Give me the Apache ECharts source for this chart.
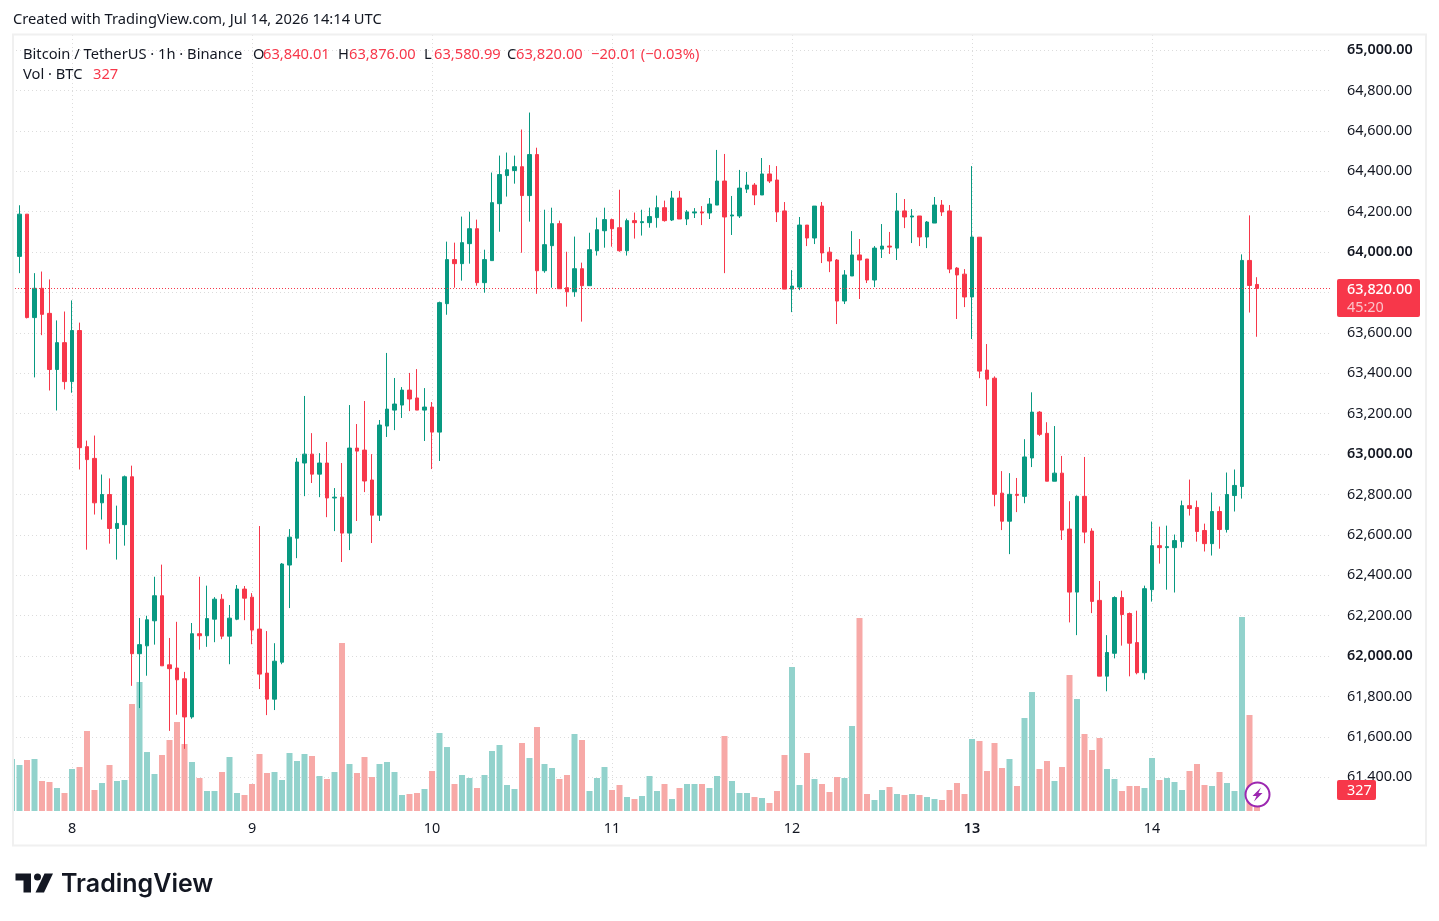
<!DOCTYPE html>
<html>
<head>
<meta charset="utf-8">
<style>html,body{margin:0;padding:0;background:#fff}#c{width:1439px;height:921px}</style>
<script src="https://cdn.jsdelivr.net/npm/echarts@6/dist/echarts.min.js"></script>
</head>
<body>
<div id="c"></div>
<script>
const opens = [
63924,63979,64188,63676,63821,63697,63419,63552,63359,63612,
63037,62979,62759,62800,62632,62651,62888,62012,62051,62175,
62299,61957,61941,61888,61699,62111,62101,62183,62282,62099,
62183,62332,62292,62134,61916,61787,61970,62451,62584,62956,
63000,62901,62956,62783,62787,62609,63030,63020,62872,62698,
63139,63218,63243,63317,63278,63218,63233,63109,63745,63963,
63943,64042,64116,63849,63958,64240,64379,64404,64423,64280,
64483,63908,64032,64141,63824,63804,63918,63834,64007,64106,
64161,64121,64007,64156,64146,64146,64171,64220,64159,64268,
64164,64194,64199,64194,64233,64352,64179,64179,64312,64332,
64283,64387,64357,64204,63817,63827,64134,64070,64228,64000,
63961,63758,63882,63986,63966,63862,64015,64030,64020,64204,
64174,64179,64075,64144,64233,64204,63921,63891,63778,64074,
63416,63376,62807,62668,62801,62791,62981,63208,63103,62866,
62906,62629,62317,62791,62619,62276,61901,62014,62290,62211,
62067,61918,62329,62547,62537,62537,62567,62745,62736,62622,
62557,62716,62627,62795,62840,63959,63840.01];
const closes = [
63984,64188,63676,63821,63692,63419,63552,63359,63612,63032,
62973,62759,62800,62632,62657,62888,62012,62057,62180,62299,
61952,61938,61883,61699,62111,62101,62186,62282,62099,62188,
62332,62287,62129,61911,61787,61975,62456,62589,62961,63000,
62901,62956,62783,62787,62609,63030,63015,62867,62698,63144,
63223,63248,63317,63273,63218,63233,63109,63750,63963,63943,
64047,64116,63849,63963,64245,64384,64408,64423,64280,64483,
63908,64037,64141,63819,63804,63918,63834,64012,64111,64161,
64116,64007,64156,64146,64151,64176,64220,64156,64268,64164,
64199,64199,64194,64238,64352,64174,64184,64317,64332,64283,
64387,64352,64199,63817,63832,64134,64070,64228,63996,63956,
63758,63887,63986,63961,63862,64020,64030,64025,64204,64174,
64179,64075,64149,64233,64199,63916,63887,63778,64075,63411,
63371,62801,62668,62801,62796,62986,63208,63098,62866,62906,
62624,62317,62791,62614,62271,61901,62018,62290,62206,62064,
61918,62334,62547,62537,62542,62572,62745,62731,62617,62557,
62716,62627,62800,62845,63959,63835,63820];
const highs = [
63984,64232,64188,63896,63904,63865,63662,63706,63761,63651,
63067,63092,62899,62880,62745,62894,62943,62189,62200,62393,
62453,62090,62170,61922,62164,62393,62349,62292,62307,62253,
62352,62347,62312,62644,62124,62064,62461,62629,62981,63288,
63104,63005,63060,62832,62956,63243,63149,63263,63000,63169,
63501,63377,63332,63402,63421,63327,63258,63755,64052,64047,
64176,64200,64161,64012,64394,64478,64493,64478,64607,64691,
64517,64210,64220,64156,64002,64077,63948,64096,64171,64220,
64166,64309,64166,64196,64210,64220,64280,64255,64303,64303,
64208,64218,64228,64268,64506,64486,64278,64407,64397,64342,
64466,64431,64426,64248,63911,64174,64134,64228,64248,64025,
63966,63911,64104,64065,63966,64030,64139,64100,64293,64263,
64213,64179,64154,64273,64258,64233,63926,63916,64426,64074,
63545,63385,62916,62906,62882,63074,63306,63213,63158,63139,
62991,62767,62796,62986,62633,62372,62104,62296,62324,62216,
62225,62349,62666,62641,62646,62602,62770,62874,62770,62656,
62810,62741,62909,62924,63989,64182,63876];
const lows = [
63924,63896,63672,63380,63589,63315,63216,63320,63304,62924,
62527,62701,62676,62557,62478,62547,61853,61743,61903,62057,
61952,61630,61710,61541,61690,62032,62046,62069,62084,61960,
62178,62178,62059,61837,61708,61733,61960,62238,62485,62792,
62857,62787,62688,62619,62466,62525,62669,62812,62560,62669,
63085,63119,63179,63213,63218,63065,62926,62966,63690,63824,
63859,63943,63834,63799,63958,64101,64275,64339,63997,64151,
63794,63898,63824,63819,63730,63779,63656,63834,63983,64022,
64027,64002,63983,64067,64082,64121,64121,64151,64154,64164,
64134,64169,64134,64164,64233,63896,64085,64169,64293,64233,
64283,64342,64149,63817,63703,63812,64030,64040,63946,63901,
63644,63743,63882,63768,63847,63827,63971,63991,63961,64119,
64045,64030,64020,64144,64179,63896,63669,63728,63570,63376,
63238,62742,62624,62505,62713,62757,62936,63090,62866,62866,
62575,62167,62104,62559,62213,61901,61826,61989,62052,61900,
61910,61884,62270,62458,62329,62315,62537,62696,62567,62518,
62498,62532,62612,62716,62780,63701,63580.99];
const volumes = [
811,718,796,811,468,452,359,281,655,686,
1248,328,437,718,468,484,1669,2012,920,577,
874,1108,1388,1045,764,515,312,312,608,842,
281,250,421,889,593,608,484,905,780,889,
858,546,499,608,2621,733,593,842,530,733,
764,608,250,265,281,343,624,1217,998,421,
562,515,359,562,936,1030,406,343,1061,827,
1310,733,671,499,562,1201,1108,312,515,686,
328,406,218,187,234,546,312,421,187,359,
421,421,421,359,546,1170,468,281,281,218,
203,125,312,874,2246,406,905,499,421,296,
530,515,1326,3011,265,172,328,374,265,250,
265,250,218,187,172,328,437,265,1123,1092,
624,1061,671,811,390,1451,1856,655,780,468,
686,2122,1747,1201,952,1139,655,499,312,390,
390,359,827,484,515,452,328,624,733,406,
390,608,437,312,3026,1498,327];
const dayLabels = {8:'8',32:'9',56:'10',80:'11',104:'12',128:'13',152:'14'};
const slotCount = 177;
const hours = Array.from({length: slotCount}, (_, i) => 'h' + i);
const priceMin = 61400, priceMax = 65000, priceStep = 200;
const lastPrice = 63820;

const UP = '#089981', DOWN = '#f7374a', UPV = '#92d2cc', DOWNV = '#f7a9a7';
const INK = '#131722', FONT = '"Noto Sans"';
const GRIDC = '#dcdcdc';
const AXSIZE = 14.4, HEADSIZE = 14.7;

const isDay = i => dayLabels[i] !== undefined;
const chart = echarts.init(document.getElementById('c'), null, {renderer:'canvas', width:1439, height:921});

const plotL = 12, plotW = 176 * 7.5, plotR = 1439 - plotL - plotW;

function text(x, y, s, fill, size, weight, font) {
  return {type:'text', x, y, z:50, silent:true,
    style:{text:s, fill:fill||INK, font:(weight||'normal')+' '+(size||HEADSIZE)+'px '+(font||FONT), textVerticalAlign:'middle', textBaseline:'middle'}};
}

const money = v => v.toLocaleString('en-US', {minimumFractionDigits:2, maximumFractionDigits:2});

chart.setOption({
  animation:false,
  backgroundColor:'#fff',
  grid:[
    {left:plotL, right:plotR, top:50.14, height:727.2},
    {left:plotL, right:plotR, top:35, height:776}
  ],
  xAxis:[
    {type:'category', gridIndex:0, data:hours, boundaryGap:false, show:false},
    {type:'category', gridIndex:1, data:hours, boundaryGap:false,
     axisLine:{show:false}, axisTick:{show:false},
     axisLabel:{interval:i=>isDay(i), margin:11, fontFamily:FONT, fontSize:AXSIZE, color:INK, hideOverlap:false,
       formatter:(v,i)=>dayLabels[i]==='13' ? '{b|13}' : (dayLabels[i]||''),
       rich:{b:{fontFamily:FONT, fontSize:AXSIZE, fontWeight:600, color:INK}}},
     splitLine:{show:true, interval:i=>isDay(i), lineStyle:{color:GRIDC, type:[1,3], width:1}}}
  ],
  yAxis:[
    {type:'value', gridIndex:0, position:'right', min:priceMin, max:priceMax, interval:priceStep, scale:true,
     axisLine:{show:false}, axisTick:{show:false},
     axisLabel:{margin:15, fontFamily:FONT, fontSize:AXSIZE, color:INK, align:'left', showMinLabel:true, showMaxLabel:true,
       formatter:v=> v%1000===0 ? '{b|'+money(v)+'}' : money(v),
       rich:{b:{fontFamily:FONT, fontSize:AXSIZE, fontWeight:600, color:INK}}},
     splitLine:{show:true, lineStyle:{color:GRIDC, type:[1,3], width:1}}},
    {type:'value', gridIndex:1, min:0, max:12106, show:false, splitLine:{show:false}}
  ],
  series:[
    {type:'bar', name:'Vol', xAxisIndex:1, yAxisIndex:1, barWidth:6, z:2, silent:true,
     data:volumes.map((v,i)=>({value:v, itemStyle:{color: closes[i]>=opens[i] ? UPV : DOWNV}}))},
    {type:'candlestick', name:'BTCUSDT', xAxisIndex:0, yAxisIndex:0, barWidth:4, z:3, silent:true,
     itemStyle:{color:UP, color0:DOWN, borderColor:UP, borderColor0:DOWN, borderWidth:1},
     data:opens.map((o,i)=>[o, closes[i], lows[i], highs[i]]),
     markLine:{silent:true, symbol:'none', label:{show:false}, animation:false,
       lineStyle:{color:DOWN, type:[1,2], width:1}, data:[{yAxis:lastPrice}]}}
  ]
});

const py = chart.convertToPixel({yAxisIndex:0}, lastPrice);
chart.setOption({graphic:[
  // covers the part of the first hour that falls outside the pane
  {type:'rect', z:30, silent:true, shape:{x:0,y:35,width:13,height:812}, style:{fill:'#fff'}},
  // frame
  {type:'rect', z:40, silent:true, shape:{x:13,y:34.5,width:1413,height:811}, style:{fill:'none', stroke:'#f0f0f0', lineWidth:2}},
  // header
  text(13,20,'Created with TradingView.com, Jul 14, 2026 14:14 UTC'),
  text(23,55,'Bitcoin / TetherUS · 1h · Binance'),
  text(253,55,'O'), text(263,55,'63,840.01',DOWN),
  text(338,55,'H'), text(349,55,'63,876.00',DOWN),
  text(424,55,'L'), text(434,55,'63,580.99',DOWN),
  text(507,55,'C'), text(516,55,'63,820.00',DOWN),
  text(591,55,'−20.01 (−0.03%)',DOWN),
  text(23,75,'Vol · BTC'),
  text(93,75,'327',DOWN),
  // last price tag
  {type:'rect', z:45, silent:true, shape:{x:1337,y:py-9.5,width:83,height:38,r:2}, style:{fill:DOWN}},
  text(1347,py+1,'63,820.00','#fff',14.4,'500'),
  text(1347,py+19,'45:20','#fbc4ca',14.4),
  // volume tag
  {type:'rect', z:45, silent:true, shape:{x:1337,y:780,width:39,height:20,r:2}, style:{fill:DOWN}},
  text(1347,791,'327','#fff',14.4),
  // bolt badge
  {type:'circle', z:46, silent:true, shape:{cx:1257.5,cy:794.5,r:12}, style:{fill:'#fff', stroke:'#9c27b0', lineWidth:2}},
  {type:'polygon', z:47, silent:true, shape:{points:[[1261,787.5],[1252.5,796],[1256.5,796],[1254,801.5],[1262.5,793],[1258.5,793]]}, style:{fill:'#9c27b0'}},
  // logo
  {type:'polygon', z:46, silent:true, shape:{points:[[15.5,873.5],[31,873.5],[31,892.5],[23.5,892.5],[23.5,880.5],[15.5,880.5]]}, style:{fill:INK}},
  {type:'circle', z:46, silent:true, shape:{cx:37.5,cy:877,r:3.5}, style:{fill:INK}},
  {type:'polygon', z:46, silent:true, shape:{points:[[44.5,873.5],[53,873.5],[44,892.5],[35.5,892.5]]}, style:{fill:INK}},
  text(61,884,'TradingView',INK,25,'600','Inter')
]});
</script>
</body>
</html>
